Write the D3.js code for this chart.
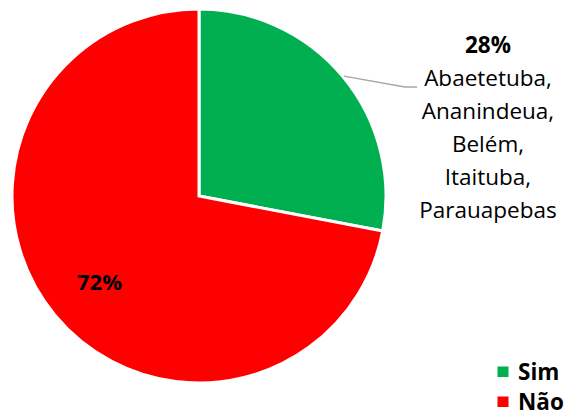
<!DOCTYPE html>
<html>
<head>
<meta charset="utf-8">
<script src="https://cdn.jsdelivr.net/npm/d3@7"></script>
<style>
  html, body { margin: 0; padding: 0; background: #fff; }
  text { font-family: "Open Sans", "Noto Sans", sans-serif; }
</style>
</head>
<body>
<div id="chart"></div>
<script>
const categories = ["Sim", "Não"];
const values = [28, 72];
const colors = ["#00b050", "#ff0000"];
const simCities = ["Abaetetuba,", "Ananindeua,", "Belém,", "Itaituba,", "Parauapebas"];

const width = 566, height = 413;
const cx = 199, cy = 196, radius = 187;

const svg = d3.select("#chart")
  .append("svg")
  .attr("width", width)
  .attr("height", height);

const pie = d3.pie().sort(null).value(d => d.value);
const arc = d3.arc().innerRadius(0).outerRadius(radius);

const data = categories.map((c, i) => ({ name: c, value: values[i], color: colors[i] }));
const arcs = pie(data);

const g = svg.append("g").attr("transform", `translate(${cx},${cy})`);

g.selectAll("path")
  .data(arcs)
  .enter()
  .append("path")
  .attr("d", arc)
  .attr("fill", d => d.data.color)
  .attr("stroke", "#fff")
  .attr("stroke-width", 3)
  .attr("stroke-linejoin", "miter");

// leader line from middle of Sim slice to its label
const simArc = arcs[0];
const midA = (simArc.startAngle + simArc.endAngle) / 2;
const p0 = [Math.sin(midA) * (radius + 1), -Math.cos(midA) * (radius + 1)];
g.append("polyline")
  .attr("points", [p0, [206, -109], [218, -109]].map(p => p.join(",")).join(" "))
  .attr("fill", "none")
  .attr("stroke", "#a6a6a6")
  .attr("stroke-width", 1.3);

// Sim label
const lab = svg.append("text")
  .attr("x", 488)
  .attr("y", 53)
  .attr("text-anchor", "middle")
  .style("font-size", "22.5px")
  .style("fill", "#000");
lab.append("tspan").attr("x", 488).style("font-weight", "bold").text(values[0] + "%");
simCities.forEach(c => {
  lab.append("tspan").attr("x", 488).attr("dy", 32.9).text(c);
});

// Não label
svg.append("text")
  .attr("x", 99.5)
  .attr("y", 290)
  .attr("text-anchor", "middle")
  .style("font-size", "22px")
  .style("font-weight", "bold")
  .text(values[1] + "%");

// legend
const legend = svg.append("g").attr("transform", "translate(497.5,366.5)");
const items = legend.selectAll("g")
  .data(data)
  .enter()
  .append("g")
  .attr("transform", (d, i) => `translate(0,${i * 30})`);
items.append("rect")
  .attr("width", 11)
  .attr("height", 10.5)
  .attr("fill", d => d.color);
items.append("text")
  .attr("x", 20.5)
  .attr("y", 13.5)
  .style("font-size", "22.5px")
  .style("font-weight", "bold")
  .text(d => d.name);
</script>
</body>
</html>
